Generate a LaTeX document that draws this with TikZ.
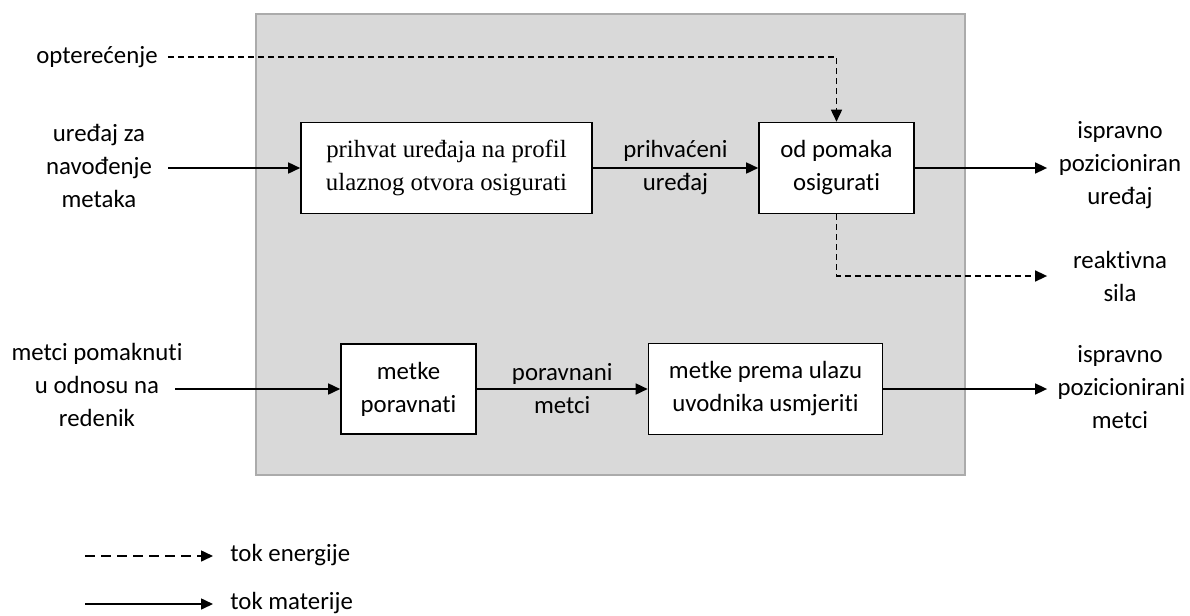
\documentclass[tikz,border=0pt]{standalone}
\usepackage{fontspec}
\setmainfont{Carlito}[Ligatures=NoCommon]
\newfontfamily\serifni{Liberation Serif}
\usetikzlibrary{arrows.meta,positioning,calc}
\definecolor{siva}{HTML}{D9D9D9}
\definecolor{rub}{HTML}{ABABAB}
\newcommand{\vel}{\fontsize{12.4}{16.5}\selectfont}
\tikzset{
  %Define standard arrow tip
  >={Triangle[length=6pt,width=5.5pt]},
  %Define style for boxes
  blok/.style={
    rectangle,
    draw=black, thick,
    fill=white,
    align=center,
    inner sep=0pt,
    font=\vel},
  %Define style for labels
  oznaka/.style={
    align=center,
    inner sep=5pt,
    font=\vel},
  izlaz/.style={
    oznaka,
    text width=62.5pt},
  % Define arrow styles
  materija/.style={
    ->,
    thick},
  energija/.style={
    ->,
    thick,
    dash pattern=on 3pt off 2pt}
}
\begin{document}
\begin{tikzpicture}[x=0.5pt,y=-0.5pt]
  \useasboundingbox (0,0) rectangle (1190,616);
  \filldraw[fill=siva, draw=rub, thick] (256,14) rectangle (965,475);

  % blocks
  \node[blok, minimum width=145.5pt, minimum height=45.5pt, font=\serifni\vel] (prihvat) at (446.5,168) {prihvat uređaja na profil\\ulaznog otvora osigurati};
  \node[blok, minimum width=77.5pt, minimum height=45.5pt] (pomak) at (836.5,168) {od pomaka\\osigurati};
  \node[blok, minimum width=67.5pt, minimum height=45pt] (poravnati) at (408.5,389) {metke\\poravnati};
  \node[blok, minimum width=117pt, minimum height=45.5pt] (usmjeriti) at (765.5,389) {metke prema ulazu\\uvodnika usmjeriti};

  % inputs and outputs
  \node[oznaka] (opt) at (97,57) {opterećenje};
  \node[oznaka] (uredjaj) at (99,166) {uređaj za\\navođenje\\metaka};
  \node[oznaka] (pomaknuti) at (97,385) {metci pomaknuti\\u odnosu na\\redenik};
  \node[izlaz] (ispravnoU) at (1120,165) {ispravno\\pozicioniran\\uređaj};
  \node[izlaz] (reakcija) at (1120,276) {reaktivna\\sila};
  \node[izlaz] (ispravnoM) at (1120,387) {ispravno\\pozicionirani\\metci};
  \coordinate (ulaz1) at (168,168);
  \coordinate (ulaz2) at (175,389);

  \draw[energija] (opt.east) -| (pomak.north);
  \draw[materija] (ulaz1) -- (prihvat);
  \draw[materija] (prihvat) -- node[oznaka] {prihvaćeni\\uređaj} (pomak);
  \draw[materija] (pomak.east) -- (pomak.east -| ispravnoU.west);
  \draw[energija] (pomak.south) |- (reakcija.west);
  \draw[materija] (ulaz2) -- (poravnati);
  \draw[materija] (poravnati) -- node[oznaka] {poravnani\\metci} (usmjeriti);
  \draw[materija] (usmjeriti.east) -- (usmjeriti.east -| ispravnoM.west);

  % legend
  \coordinate (leg1) at (85,556);
  \coordinate (leg2) at (85,604);
  \node[oznaka, anchor=west] (energ) at (220,555) {tok energije};
  \node[oznaka, anchor=west] (mater) at (220,603) {tok materije};
  \draw[energija, dash pattern=on 5pt off 3pt, shorten >=3.5pt] (leg1) -- (leg1 -| energ.west);
  \draw[materija, shorten >=3.5pt] (leg2) -- (leg2 -| mater.west);
\end{tikzpicture}
\end{document}
